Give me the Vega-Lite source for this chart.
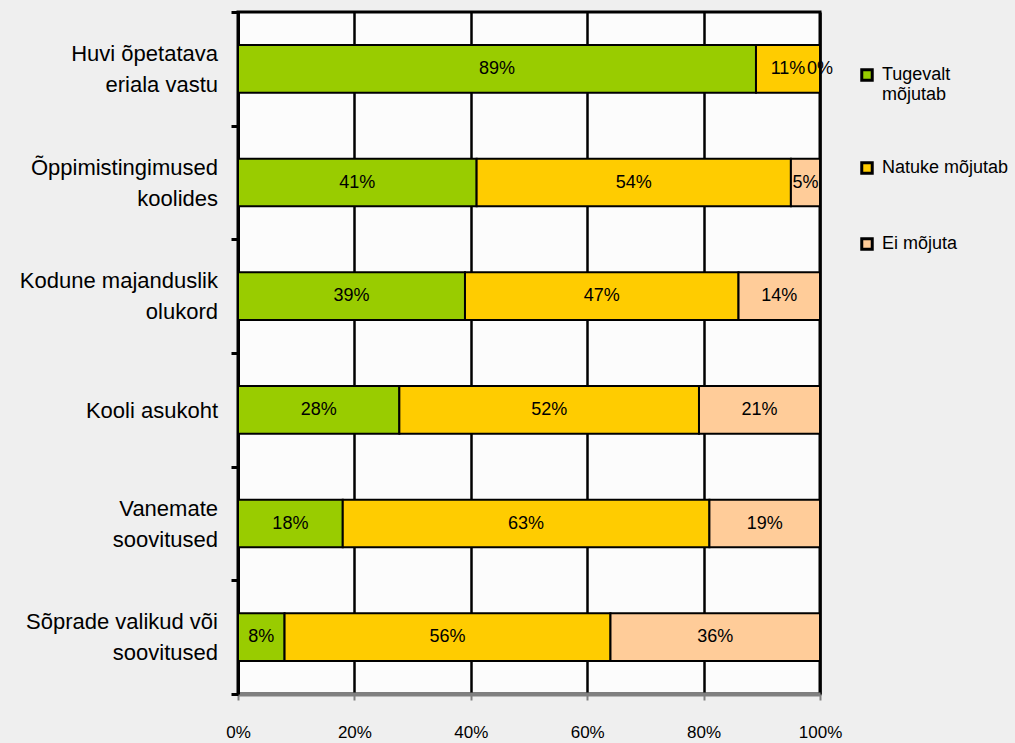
{
  "$schema": "https://vega.github.io/schema/vega-lite/v6.json",
  "autosize": {"type": "none"},
  "padding": {"left": 238, "top": 12, "right": 195, "bottom": 49},
  "width": 582,
  "height": 682,
  "background": "#efefef",
  "config": {
    "view": {"fill": "#fcfcfc", "stroke": "#000000", "strokeWidth": 3},
    "font": "Liberation Sans"
  },
  "data": {
    "values": [
      {"kat": "Huvi õpetatava|eriala vastu", "grupp": "Tugevalt mõjutab", "o": 1, "v": 89},
      {"kat": "Huvi õpetatava|eriala vastu", "grupp": "Natuke mõjutab", "o": 2, "v": 11},
      {"kat": "Huvi õpetatava|eriala vastu", "grupp": "Ei mõjuta", "o": 3, "v": 0},
      {"kat": "Õppimistingimused|koolides", "grupp": "Tugevalt mõjutab", "o": 1, "v": 41},
      {"kat": "Õppimistingimused|koolides", "grupp": "Natuke mõjutab", "o": 2, "v": 54},
      {"kat": "Õppimistingimused|koolides", "grupp": "Ei mõjuta", "o": 3, "v": 5},
      {"kat": "Kodune majanduslik|olukord", "grupp": "Tugevalt mõjutab", "o": 1, "v": 39},
      {"kat": "Kodune majanduslik|olukord", "grupp": "Natuke mõjutab", "o": 2, "v": 47},
      {"kat": "Kodune majanduslik|olukord", "grupp": "Ei mõjuta", "o": 3, "v": 14},
      {"kat": "Kooli asukoht", "grupp": "Tugevalt mõjutab", "o": 1, "v": 28},
      {"kat": "Kooli asukoht", "grupp": "Natuke mõjutab", "o": 2, "v": 52},
      {"kat": "Kooli asukoht", "grupp": "Ei mõjuta", "o": 3, "v": 21},
      {"kat": "Vanemate|soovitused", "grupp": "Tugevalt mõjutab", "o": 1, "v": 18},
      {"kat": "Vanemate|soovitused", "grupp": "Natuke mõjutab", "o": 2, "v": 63},
      {"kat": "Vanemate|soovitused", "grupp": "Ei mõjuta", "o": 3, "v": 19},
      {"kat": "Sõprade valikud või|soovitused", "grupp": "Tugevalt mõjutab", "o": 1, "v": 8},
      {"kat": "Sõprade valikud või|soovitused", "grupp": "Natuke mõjutab", "o": 2, "v": 56},
      {"kat": "Sõprade valikud või|soovitused", "grupp": "Ei mõjuta", "o": 3, "v": 36}
    ]
  },
  "transform": [
    {"stack": "v", "groupby": ["kat"], "sort": [{"field": "o"}], "offset": "normalize", "as": ["s0", "s1"]},
    {"calculate": "(datum.s0 + datum.s1) / 2", "as": "mid"},
    {"calculate": "datum.v + '%'", "as": "lbl"}
  ],
  "encoding": {
    "y": {
      "field": "kat",
      "type": "nominal",
      "sort": null,
      "scale": {"paddingInner": 0, "paddingOuter": 0},
      "axis": {
        "title": null,
        "labels": false,
        "domainColor": "#000000",
        "domainWidth": 3,
        "tickColor": "#000000",
        "tickWidth": 3,
        "tickSize": 7,
        "tickBand": "extent",
        "grid": false
      }
    },
    "x": {
      "field": "s0",
      "type": "quantitative",
      "scale": {"domain": [0, 1]},
      "axis": {
        "title": null,
        "format": ".0%",
        "values": [0, 0.2, 0.4, 0.6, 0.8, 1],
        "labelFontSize": 17,
        "labelColor": "#000000",
        "labelPadding": 24,
        "labelFlush": false,
        "labelOverlap": false,
        "domainColor": "#808080",
        "domainWidth": 4,
        "tickColor": "#808080",
        "tickWidth": 2,
        "tickSize": 6,
        "grid": true,
        "gridColor": "#000000",
        "gridWidth": 2.5,
        "gridOpacity": 1
      }
    }
  },
  "layer": [
    {
      "mark": {"type": "bar", "stroke": "#000000", "strokeWidth": 2, "height": {"band": 0.42}},
      "encoding": {
        "x2": {"field": "s1"},
        "color": {
          "field": "grupp",
          "type": "nominal",
          "sort": ["Tugevalt mõjutab", "Natuke mõjutab", "Ei mõjuta"],
          "scale": {
            "domain": ["Tugevalt mõjutab", "Natuke mõjutab", "Ei mõjuta"],
            "range": ["#99cc00", "#ffcc00", "#ffcc99"]
          },
          "legend": {
            "title": null,
            "orient": "none",
            "legendX": 620,
            "legendY": 54,
            "symbolType": "square",
            "symbolSize": 110,
            "symbolStrokeColor": "#000000",
            "symbolStrokeWidth": 3,
            "labelFontSize": 18,
            "labelColor": "#000000",
            "labelOffset": 6,
            "labelLimit": 200,
            "labelLineHeight": 24,
            "labelExpr": "datum.label == 'Tugevalt mõjutab' ? ['Tugevalt', 'mõjutab'] : datum.label",
            "rowPadding": 52
          }
        }
      }
    },
    {
      "mark": {"type": "text", "fontSize": 18, "color": "#000000"},
      "encoding": {
        "x": {"field": "mid", "type": "quantitative"},
        "text": {"field": "lbl", "type": "nominal"},
        "detail": {"field": "grupp"}
      }
    },
    {
      "transform": [
        {"filter": "datum.o == 1 && indexof(datum.kat, '|') >= 0"}
      ],
      "mark": {"type": "text", "fontSize": 22, "color": "#000000", "align": "right", "baseline": "middle", "dx": -20, "dy": -15, "lineBreak": "|", "lineHeight": 31},
      "encoding": {
        "x": {"datum": 0, "type": "quantitative"},
        "text": {"field": "kat", "type": "nominal"}
      }
    },
    {
      "transform": [
        {"filter": "datum.o == 1 && indexof(datum.kat, '|') < 0"}
      ],
      "mark": {"type": "text", "fontSize": 22, "color": "#000000", "align": "right", "baseline": "middle", "dx": -20, "dy": 1},
      "encoding": {
        "x": {"datum": 0, "type": "quantitative"},
        "text": {"field": "kat", "type": "nominal"}
      }
    }
  ]
}
